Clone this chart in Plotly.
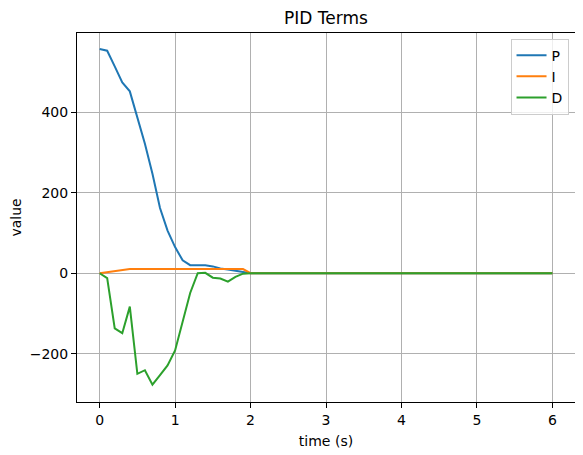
import plotly.graph_objects as go

# time axis (s); after 2 s every term stays at zero
time = [0.0, 0.1, 0.2, 0.3, 0.4, 0.5, 0.6, 0.7, 0.8, 0.9, 1.0,
        1.1, 1.2, 1.3, 1.4, 1.5, 1.6, 1.7, 1.8, 1.9, 2.0, 6.0]

p_term = [557, 553, 514, 474, 452, 388, 322, 247, 162, 106, 65,
          32, 20, 20, 20, 17, 12, 9, 6, 3, 0, 0]
i_term = [0, 2.7, 5.3, 8, 10.5, 10.5, 10.5, 10.5, 10.5, 10.5, 10.5,
          10.5, 10.5, 10.5, 10.5, 10.5, 10.5, 10.5, 10.5, 10.5, 0, 0]
d_term = [0, -12, -137, -149, -83, -250, -241, -277, -253, -229, -192,
          -122, -49, 0, 1, -11, -13, -21, -9, -1, 0, 0]

x_ticks = [0, 1, 2, 3, 4, 5, 6]
y_ticks = [-200, 0, 200, 400]

fig = go.Figure()
for name, vals, color in [("P", p_term, "#1f77b4"),
                          ("I", i_term, "#ff7f0e"),
                          ("D", d_term, "#2ca02c")]:
    fig.add_trace(go.Scatter(x=time, y=vals, mode="lines", name=name,
                             line=dict(color=color, width=2)))

axis_style = dict(showline=True, linecolor="black", linewidth=1, mirror=True,
                  showgrid=True, gridcolor="#b0b0b0", gridwidth=1,
                  ticks="outside", ticklen=5, tickcolor="black", automargin=False,
                  zeroline=False, tickfont=dict(size=14, color="black"))

fig.update_xaxes(range=[-0.3, 6.3], tickvals=x_ticks,
                 title=dict(text="time (s)", font=dict(size=14, color="black"), standoff=9),
                 **axis_style)
fig.update_yaxes(range=[-320, 597], tickvals=y_ticks,
                 title=dict(text="value", font=dict(size=14, color="black"), standoff=9),
                 **axis_style)

# page body adds an 8px margin, so the figure is drawn 8px smaller
fig.update_layout(
    width=575, height=447,
    margin=dict(l=69, r=8, t=25, b=53),
    paper_bgcolor="white", plot_bgcolor="white",
    font=dict(family="DejaVu Sans", size=14, color="black"),
    title=dict(text="PID Terms", x=0.5, xref="paper", xanchor="center",
               y=0.978, yanchor="middle", font=dict(size=17, color="black")),
    legend=dict(x=0.987, y=0.985, xanchor="right", yanchor="top",
                bgcolor="rgba(255,255,255,0.8)", bordercolor="#cccccc", borderwidth=1,
                font=dict(size=14), itemwidth=30),
    showlegend=True,
)

fig.write_html("out.html")
